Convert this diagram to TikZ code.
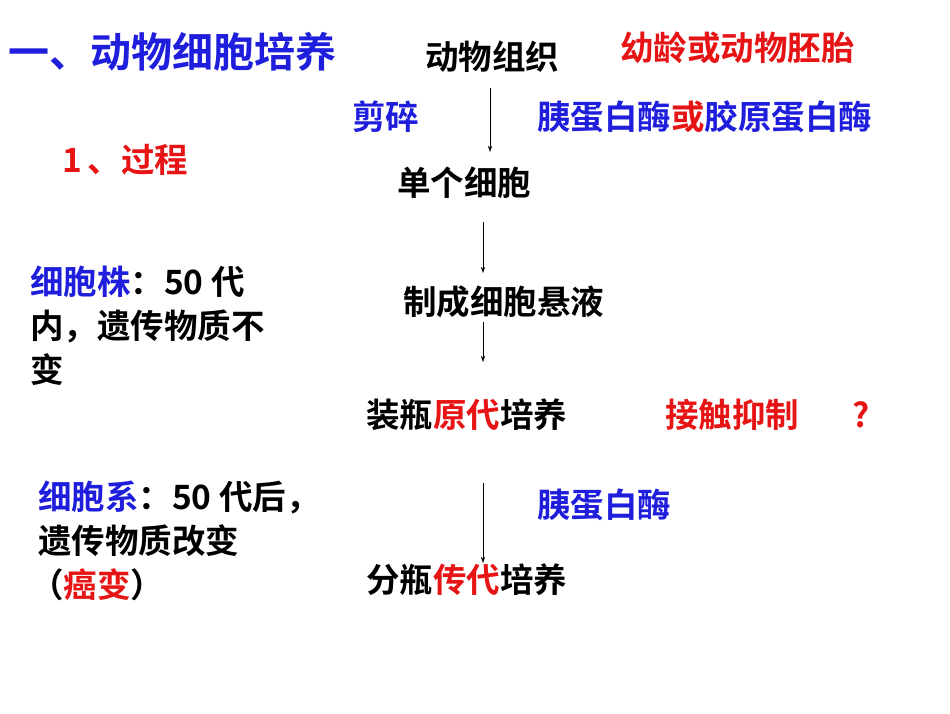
\documentclass[tikz,border=0pt]{standalone}
\usepackage{fontspec}
\usetikzlibrary{arrows.meta}
\setmainfont{Noto Sans CJK SC}[BoldFont={Noto Sans CJK SC Bold}]
\definecolor{tblue}{RGB}{30,30,220}
\definecolor{tred}{RGB}{230,20,20}
\begin{document}
\begin{tikzpicture}[x=1pt,y=-1pt,
  t/.style={anchor=west,inner sep=0pt,font=\fontsize{33.5}{38}\selectfont\bfseries},
  arr/.style={-{Stealth[length=6pt,width=4pt]},thin}]
\useasboundingbox (0,0) rectangle (950,713);
\node[t,tblue,font=\fontsize{41}{44}\selectfont\bfseries] (title) at (8,52) {一、动物细胞培养};
\node[t] (tissue) at (425,57) {动物组织};
\node[t,tred] (young) at (620,48) {幼龄或动物胚胎};
\node[t,tblue] (cut) at (352,117) {剪碎};
\node[t,tblue] (enz) at (537,117) {胰蛋白酶\textcolor{tred}{或}胶原蛋白酶};
\node[t,tred] (proc) at (62,160) {1\,、过程};
\node[t] (single) at (397,183) {单个细胞};
\node[t] (susp) at (403,302) {制成细胞悬液};
\node[t] (prim) at (366,415) {装瓶\textcolor{tred}{原代}培养};
\node[t,tred] (contact) at (665,415) {接触抑制};
\node[t,tred] (q) at (852,415) {?};
\node[t] (sub) at (366,580) {分瓶\textcolor{tred}{传代}培养};
\node[t,tblue] (tryp) at (537,505) {胰蛋白酶};
\node[t] (strain1) at (30,282) {\textcolor{tblue}{细胞株}：50 代};
\node[t] (strain2) at (30,326) {内，遗传物质不};
\node[t] (strain3) at (30,370) {变};
\node[t] (line1) at (38,497) {\textcolor{tblue}{细胞系}：50 代后，};
\node[t] (line2) at (38,541) {遗传物质改变};
\node[t] (line3) at (30,585) {（\textcolor{tred}{癌变}）};
\coordinate (a1) at (490,88); \coordinate (b1) at (490,152);
\coordinate (a2) at (483,222); \coordinate (b2) at (483,273);
\coordinate (a3) at (483,322); \coordinate (b3) at (483,362);
\coordinate (a4) at (483,483); \coordinate (b4) at (483,563);
\draw[arr] (a1)--(b1);
\draw[arr] (a2)--(b2);
\draw[arr] (a3)--(b3);
\draw[arr] (a4)--(b4);
\end{tikzpicture}
\end{document}
